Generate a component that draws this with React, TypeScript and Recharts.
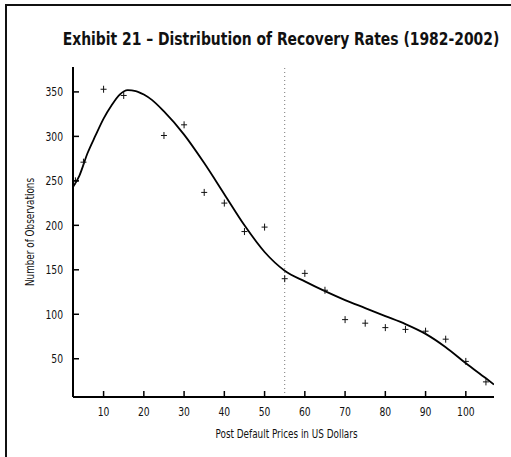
import {
  ComposedChart,
  Line,
  Scatter,
  XAxis,
  YAxis,
  ReferenceLine,
  Label,
} from "recharts";

// observed counts (crosses)
const obsX = [3, 5, 10, 15, 25, 30, 35, 40, 45, 50, 55, 60, 65, 70, 75, 80, 85, 90, 95, 100, 105];
const obsY = [250, 271, 353, 346, 301, 313, 237, 225, 193, 198, 140, 146, 127, 94, 90, 85, 83, 81, 72, 47, 24];

// fitted curve
const curveX = [2.4, 4, 6, 8, 10, 12, 14, 16, 18, 20, 22, 25, 30, 35, 40, 45, 50, 55, 60, 65, 70, 75, 80, 85, 90, 95, 100, 105, 107];
const curveY = [243, 256, 281, 301, 320, 335, 347, 352, 351, 347, 341, 328, 302, 270, 235, 200, 170, 149, 137, 126, 116, 107, 98, 89, 78, 63, 45, 28, 21];

const xTicks = [10, 20, 30, 40, 50, 60, 70, 80, 90, 100];
const yTicks = [50, 100, 150, 200, 250, 300, 350];

const FONT = "'DejaVu Sans Condensed', 'Liberation Sans Narrow', 'Roboto', sans-serif";
const SQUEEZE = 0.82;

const observed = obsX.map((x, i) => ({ x, y: obsY[i] }));
const curve = curveX.map((x, i) => ({ x, y: curveY[i] }));

const Cross = (props: any) => {
  const { cx, cy } = props;
  return (
    <path
      d={`M${cx - 3},${cy}h6M${cx},${cy - 3.5}v7`}
      stroke="#111"
      strokeWidth={1}
      fill="none"
    />
  );
};

const YTick = (props: any) => {
  const { x, y, payload } = props;
  return (
    <g>
      <line x1={x + 10} x2={x + 16} y1={y} y2={y} stroke="#000" strokeWidth={1.5} />
      <text
        transform={`translate(${x},${y}) scale(${SQUEEZE},1)`}
        dy="0.35em"
        textAnchor="end"
        fontSize={12.5}
        fontFamily={FONT}
        fill="#111"
      >
        {payload.value}
      </text>
    </g>
  );
};

const XTick = (props: any) => {
  const { x, y, payload } = props;
  return (
    <g>
      <line x1={x} x2={x} y1={y - 10} y2={y - 16} stroke="#000" strokeWidth={1.5} />
      <text
        transform={`translate(${x},${y}) scale(${SQUEEZE},1)`}
        dy="0.71em"
        textAnchor="middle"
        fontSize={12.5}
        fontFamily={FONT}
        fill="#111"
      >
        {payload.value}
      </text>
    </g>
  );
};

const XTitle = (props: any) => {
  const { viewBox } = props;
  const cx = viewBox.x + viewBox.width / 2;
  return (
    <text
      transform={`translate(${cx + 3},${viewBox.y + 41}) scale(${SQUEEZE},1)`}
      textAnchor="middle"
      fontSize={12}
      fontFamily={FONT}
      fill="#111"
    >
      Post Default Prices in US Dollars
    </text>
  );
};

const YTitle = (props: any) => {
  const { viewBox } = props;
  const cy = viewBox.y + viewBox.height / 2;
  return (
    <text
      transform={`translate(34,${cy}) rotate(-90) scale(${SQUEEZE},1)`}
      textAnchor="middle"
      fontSize={12}
      fontFamily={FONT}
      fill="#111"
    >
      Number of Observations
    </text>
  );
};

export default function App() {
  return (
    <div
      style={{
        position: "absolute",
        left: 0,
        top: 0,
        width: 511,
        height: 457,
        background: "#fff",
        overflow: "hidden",
      }}
    >
      <div
        style={{
          position: "absolute",
          left: 5,
          top: 4,
          width: 506,
          height: 453,
          borderLeft: "2px solid #111",
          borderTop: "2px solid #111",
          boxSizing: "border-box",
        }}
      />
      <svg width={511} height={60} style={{ position: "absolute", left: 0, top: 0 }}>
        <text
          transform="translate(281,45) scale(0.86,1)"
          textAnchor="middle"
          fontFamily={FONT}
          fontWeight="bold"
          fontSize={18}
          fill="#111"
        >
          Exhibit 21 – Distribution of Recovery Rates (1982-2002)
        </text>
      </svg>
      <div style={{ position: "absolute", left: 0, top: 0 }}>
        <ComposedChart
          width={511}
          height={457}
          margin={{ top: 67, right: 17, bottom: 0, left: 0 }}
        >
          <XAxis
            dataKey="x"
            type="number"
            domain={[2.4, 107]}
            allowDataOverflow
            ticks={xTicks}
            height={60}
            tickSize={0}
            tickMargin={10}
            tickLine={false}
            tick={<XTick />}
            axisLine={{ stroke: "#000", strokeWidth: 2 }}
          >
            <Label content={<XTitle />} />
          </XAxis>
          <XAxis
            xAxisId="top"
            orientation="top"
            type="number"
            domain={[2.4, 107]}
            allowDataOverflow
            height={0}
            tick={false}
            tickLine={false}
            axisLine={{ stroke: "#000", strokeWidth: 1.5 }}
          />
          <YAxis
            dataKey="y"
            type="number"
            domain={[7, 378]}
            allowDataOverflow
            ticks={yTicks}
            width={73}
            tickSize={0}
            tickMargin={10}
            tickLine={false}
            tick={<YTick />}
            axisLine={{ stroke: "#000", strokeWidth: 2 }}
          >
            <Label content={<YTitle />} />
          </YAxis>
          <YAxis
            yAxisId="right"
            orientation="right"
            type="number"
            domain={[7, 378]}
            allowDataOverflow
            width={0}
            tick={false}
            tickLine={false}
            axisLine={{ stroke: "#000", strokeWidth: 1.5 }}
          />
          <ReferenceLine x={55} stroke="#777" strokeDasharray="1 3" strokeWidth={1} />
          <Line
            data={curve}
            dataKey="y"
            type="monotone"
            stroke="#000"
            strokeWidth={1.8}
            dot={false}
            isAnimationActive={false}
          />
          <Scatter data={observed} dataKey="y" shape={<Cross />} isAnimationActive={false} />
        </ComposedChart>
      </div>
    </div>
  );
}
